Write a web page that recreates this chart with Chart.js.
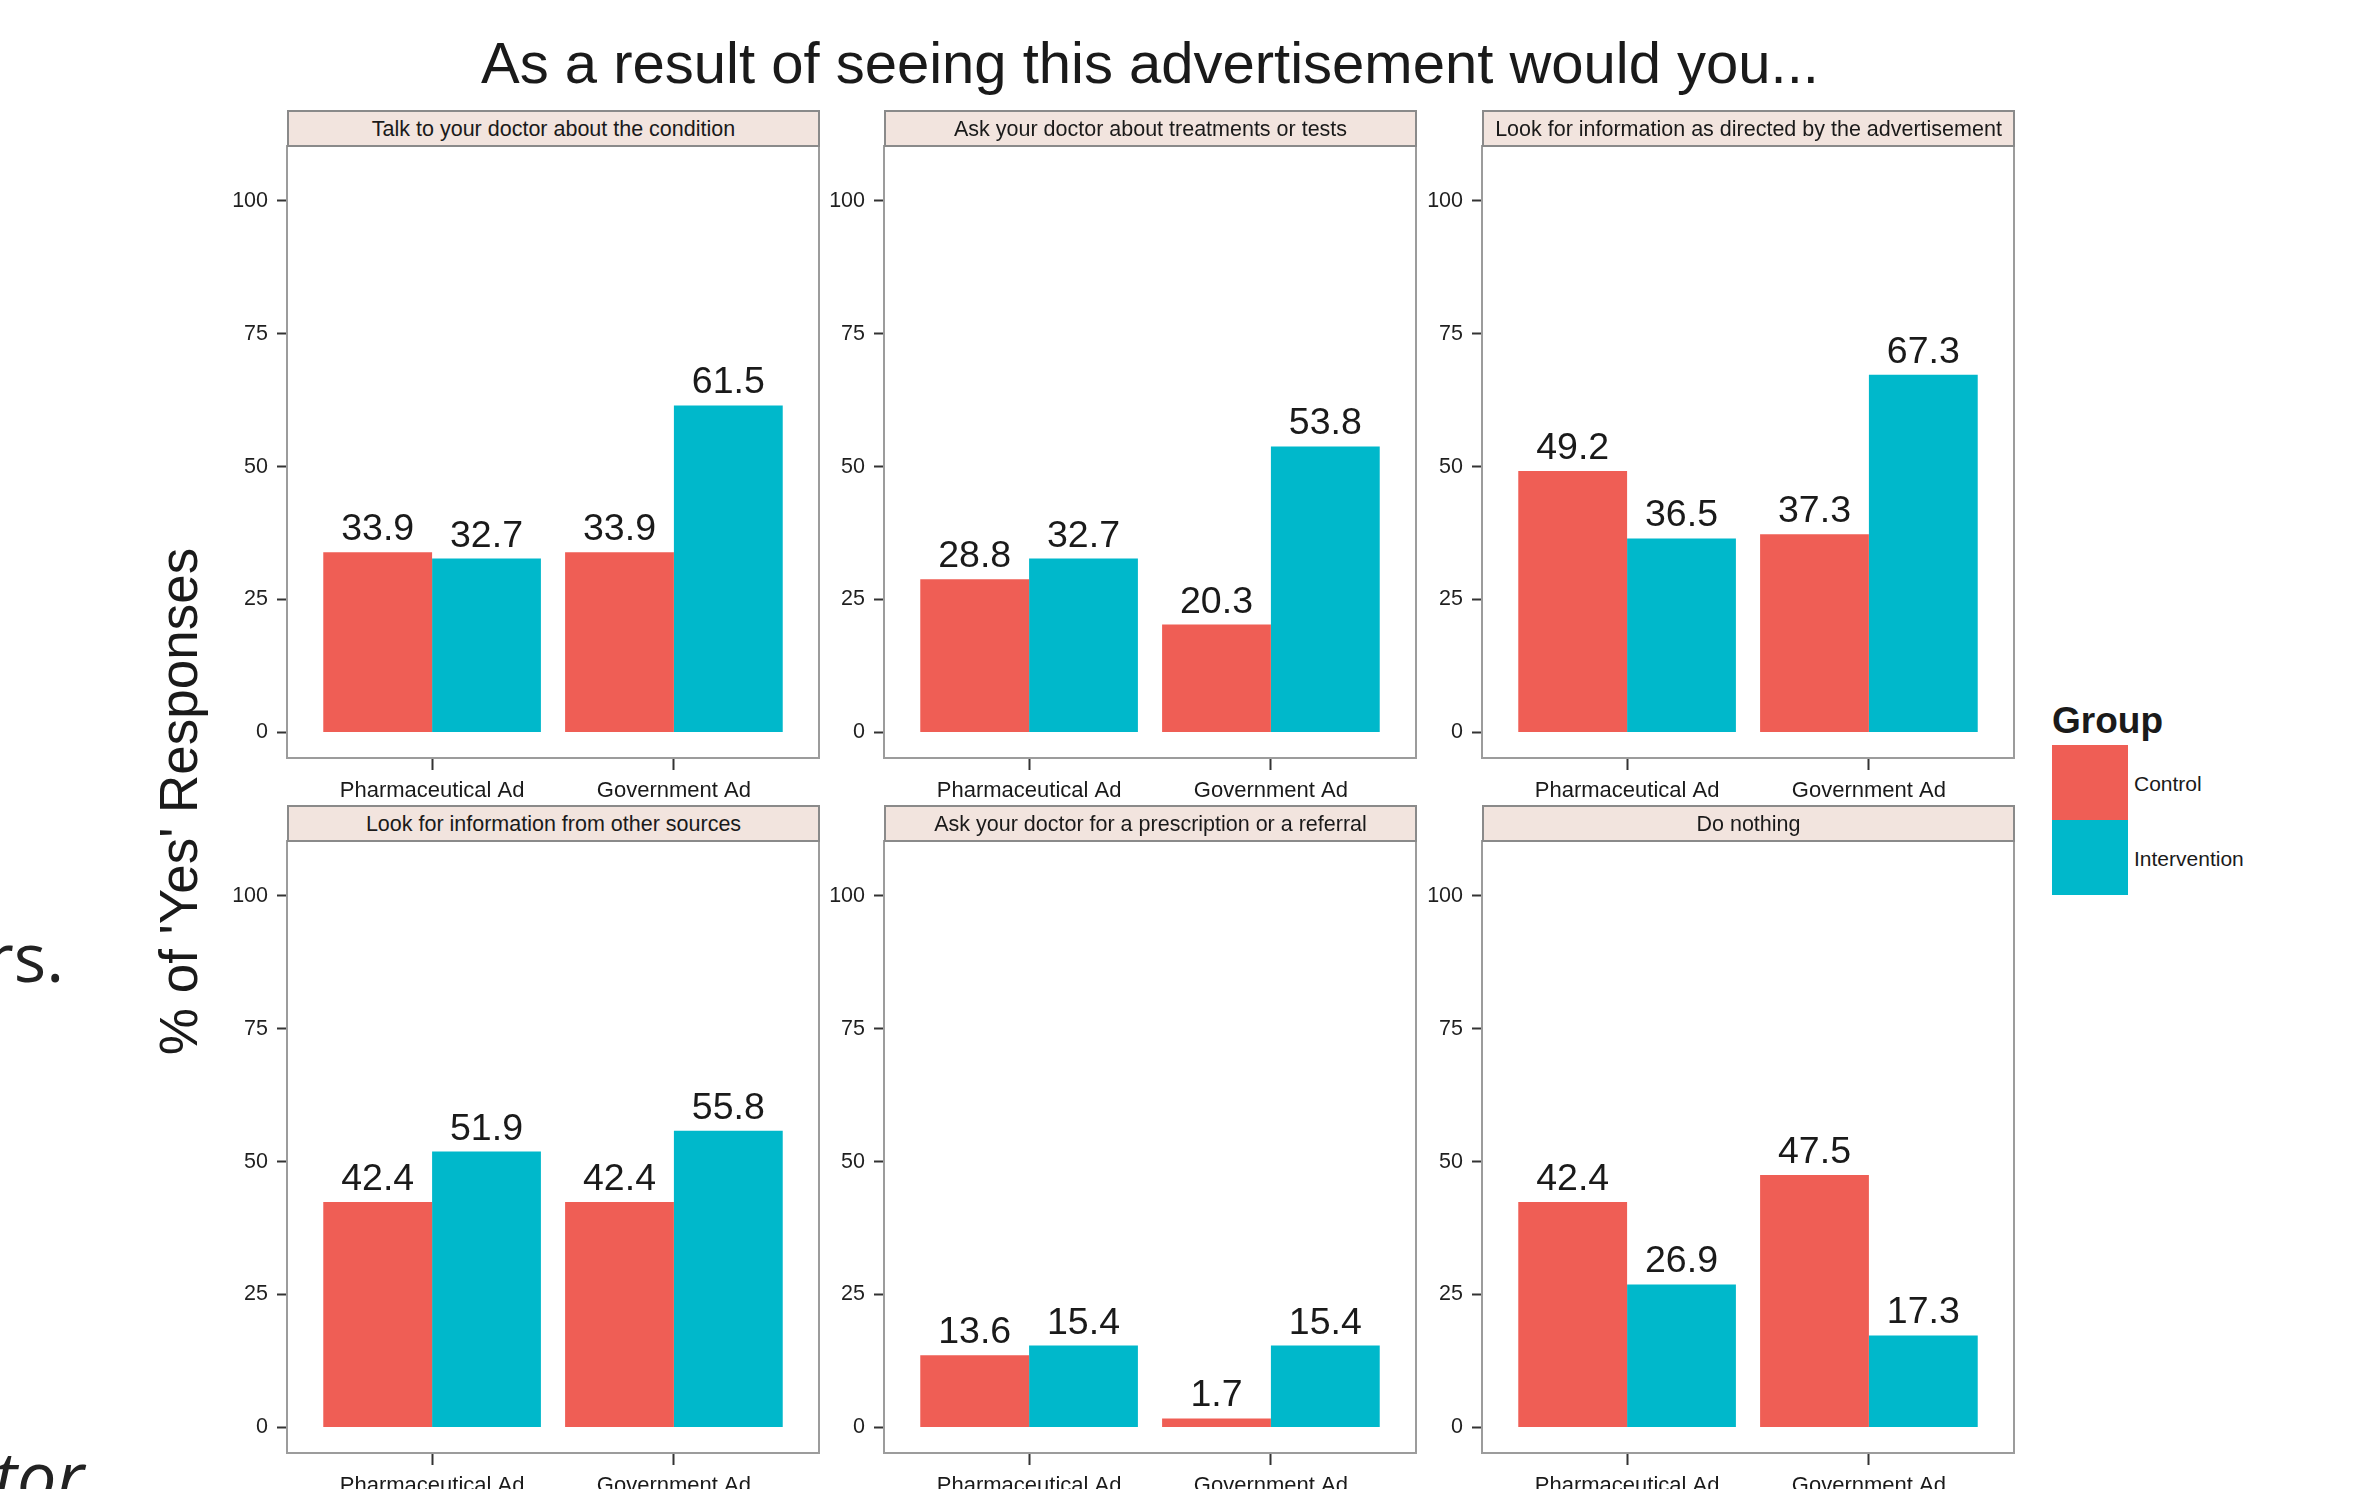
<!DOCTYPE html>
<html>
<head>
<meta charset="utf-8">
<script src="https://cdn.jsdelivr.net/npm/chart.js@4.4.1/dist/chart.umd.min.js"></script>
<style>
  html, body { margin:0; padding:0; background:#ffffff; }
  body { width:2354px; height:1489px; overflow:hidden; position:relative; font-family:"Liberation Sans", Arial, sans-serif; }
  .abs { position:absolute; }
  .strip { position:absolute; box-sizing:border-box; background:#F2E4DE; border:2px solid #8a8a8a;
           font-size:21.5px; color:#1a1a1a; text-align:center; display:flex; align-items:center; justify-content:center; z-index:5; white-space:nowrap; padding-top:2px; }
  canvas { position:absolute; }
</style>
</head>
<body>
<div id="title" class="abs" style="left:0; width:2300px; top:34px; font-size:58px; line-height:58px; color:#1a1a1a; text-align:center;"></div>
<div id="ytitle" class="abs" style="left:-122px; width:600px; top:775px; font-size:53px; line-height:53px; color:#1a1a1a; text-align:center; transform:rotate(-90deg);"></div>
<div class="abs" style="left:-14px; top:922px; font-family:'Open Sans', sans-serif; font-size:68px; line-height:68px; color:#222;">rs.</div>
<div class="abs" style="left:-6px; top:1440px; font-family:'Open Sans', sans-serif; font-style:italic; font-size:70px; line-height:70px; color:#222;">tor</div>
<div id="legend"></div>
<div id="panels"></div>
<script>
// ---------- data ----------
const chartTitle = "As a result of seeing this advertisement would you...";
const yAxisTitle = "% of 'Yes' Responses";
const categories = ["Pharmaceutical Ad", "Government Ad"];
const groups = ["Control", "Intervention"];
const groupColors = ["#EF5E55", "#00B8CB"];
const panelTitles = [
  "Talk to your doctor about the condition",
  "Ask your doctor about treatments or tests",
  "Look for information as directed by the advertisement",
  "Look for information from other sources",
  "Ask your doctor for a prescription or a referral",
  "Do nothing"
];
const controlValues = [
  [33.9, 33.9],
  [28.8, 20.3],
  [49.2, 37.3],
  [42.4, 42.4],
  [13.6, 1.7],
  [42.4, 47.5]
];
const interventionValues = [
  [32.7, 61.5],
  [32.7, 53.8],
  [36.5, 67.3],
  [51.9, 55.8],
  [15.4, 15.4],
  [26.9, 17.3]
];
const yTicks = [0, 25, 50, 75, 100];

// ---------- layout ----------
const colLefts = [287, 884, 1482];
const rowStripTops = [110, 805];
const stripH = 37;
const plotW = 532, plotH = 612;
const yAxisW = 70, xAxisH = 50, padTop = 30, padRight = 6;

document.getElementById('title').textContent = chartTitle;
document.getElementById('ytitle').textContent = yAxisTitle;

Chart.defaults.font.family = '"Liberation Sans", Arial, sans-serif';

const framePlugin = {
  id: 'frame',
  afterDraw(chart) {
    const { ctx, chartArea: a } = chart;
    ctx.save();
    ctx.strokeStyle = '#9c9c9c';
    ctx.lineWidth = 2;
    ctx.strokeRect(a.left, a.top, a.right - a.left, a.bottom - a.top);
    ctx.restore();
  }
};
const valueLabelPlugin = {
  id: 'valueLabels',
  afterDatasetsDraw(chart) {
    const ctx = chart.ctx;
    ctx.save();
    ctx.font = '37.5px "Liberation Sans", Arial, sans-serif';
    ctx.fillStyle = '#1a1a1a';
    ctx.textAlign = 'center';
    ctx.textBaseline = 'alphabetic';
    chart.data.datasets.forEach((ds, di) => {
      chart.getDatasetMeta(di).data.forEach((bar, i) => {
        ctx.fillText(ds.data[i].y.toFixed(1), bar.x, bar.y - 12);
      });
    });
    ctx.restore();
  }
};

const panelsEl = document.getElementById('panels');
panelTitles.forEach((pt, p) => {
  const col = p % 3, row = Math.floor(p / 3);
  const left = colLefts[col];
  const stripTop = rowStripTops[row];
  const plotTop = stripTop + 36;

  const strip = document.createElement('div');
  strip.className = 'strip';
  strip.style.left = left + 'px';
  strip.style.top = stripTop + 'px';
  strip.style.width = (plotW + 1) + 'px';
  strip.style.height = stripH + 'px';
  strip.textContent = pt;
  panelsEl.appendChild(strip);

  const cv = document.createElement('canvas');
  const cw = yAxisW + plotW + padRight, ch = padTop + plotH + xAxisH;
  cv.width = cw; cv.height = ch;
  cv.style.width = cw + 'px'; cv.style.height = ch + 'px';
  cv.style.left = (left - yAxisW) + 'px';
  cv.style.top = (plotTop - padTop) + 'px';
  panelsEl.appendChild(cv);

  const seriesValues = [controlValues[p], interventionValues[p]];
  new Chart(cv, {
    type: 'bar',
    data: {
      datasets: groups.map((g, gi) => ({
        label: g,
        data: categories.map((c, ci) => ({ x: ci + 1, y: seriesValues[gi][ci] })),
        backgroundColor: groupColors[gi],
        borderWidth: 0,
        categoryPercentage: 0.9,
        barPercentage: 1.0
      }))
    },
    options: {
      responsive: false,
      animation: false,
      devicePixelRatio: 1,
      layout: { padding: { top: padTop, right: padRight, left: 0, bottom: 0 } },
      plugins: { legend: { display: false }, tooltip: { enabled: false } },
      scales: {
        x: {
          type: 'linear',
          min: 0.4, max: 2.6,
          offset: false,
          afterBuildTicks: (axis) => { axis.ticks = categories.map((c, i) => ({ value: i + 1 })); },
          afterFit: (s) => { s.height = xAxisH; },
          ticks: {
            callback: (v) => categories[v - 1],
            font: { size: 22 }, color: '#1a1a1a', padding: 8,
            maxRotation: 0, autoSkip: false
          },
          grid: { drawOnChartArea: false, drawTicks: true, tickLength: 12, tickColor: '#333333', tickWidth: 2, offset: false },
          border: { display: false }
        },
        y: {
          min: -4.8, max: 110.3,
          afterBuildTicks: (axis) => { axis.ticks = yTicks.map(v => ({ value: v })); },
          afterFit: (s) => { s.width = yAxisW; },
          ticks: { font: { size: 21.5 }, color: '#1f1f1f', padding: 9 },
          grid: { drawOnChartArea: false, drawTicks: true, tickLength: 10, tickColor: '#333333', tickWidth: 2 },
          border: { display: false }
        }
      }
    },
    plugins: [framePlugin, valueLabelPlugin]
  });
});

// ---------- legend ----------
const legendEl = document.getElementById('legend');
const lgTitle = document.createElement('div');
lgTitle.className = 'abs';
lgTitle.style.cssText = 'left:2052px; top:702px; font-size:37px; line-height:37px; font-weight:bold; color:#1a1a1a;';
lgTitle.textContent = 'Group';
legendEl.appendChild(lgTitle);
groups.forEach((g, gi) => {
  const key = document.createElement('div');
  key.className = 'abs';
  key.style.cssText = `left:2052px; top:${745 + gi * 75}px; width:76px; height:75px; background:${groupColors[gi]};`;
  legendEl.appendChild(key);
  const lab = document.createElement('div');
  lab.className = 'abs';
  lab.style.cssText = `left:2134px; top:${745 + gi * 75 + 26}px; font-size:21px; line-height:25px; color:#1a1a1a;`;
  lab.textContent = g;
  legendEl.appendChild(lab);
});
</script>
</body>
</html>
